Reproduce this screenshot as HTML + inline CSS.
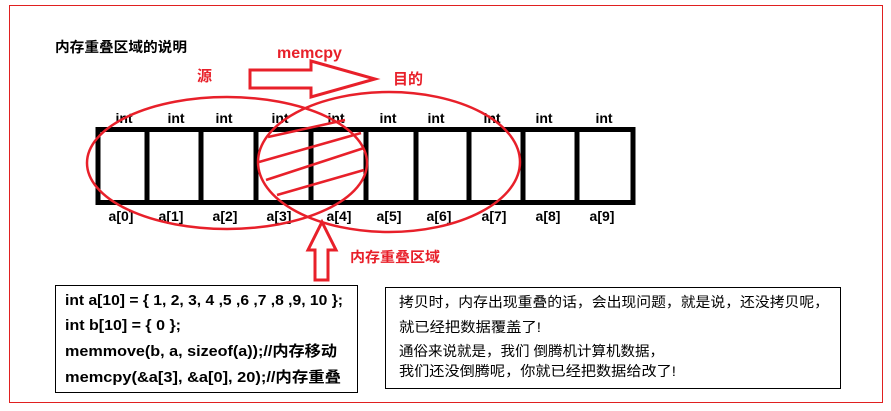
<!DOCTYPE html>
<html><head><meta charset="utf-8"><style>html,body{margin:0;padding:0;background:#fff;}svg{display:block}</style></head>
<body>
<svg width="891" height="411" viewBox="0 0 891 411" xmlns="http://www.w3.org/2000/svg" font-family="'Liberation Sans','Noto Sans CJK SC',sans-serif" font-weight="bold">
<rect x="9.5" y="5.5" width="873" height="397" fill="none" stroke="#e02020" stroke-width="1"/>
<text x="55" y="52" font-size="14" fill="#000" textLength="132" lengthAdjust="spacingAndGlyphs">内存重叠区域的说明</text>
<text x="277" y="58" font-size="16" fill="#e8202a">memcpy</text>
<text x="197" y="81" font-size="15" fill="#e8202a">源</text>
<text x="393" y="84" font-size="15" fill="#e8202a">目的</text>
<polygon points="250,70 311,70 311,61 375,79 311,97 311,88 250,88" fill="none" stroke="#e8202a" stroke-width="3"/>
<g font-size="14" fill="#000" text-anchor="middle">
<text x="124" y="123">int</text><text x="176" y="123">int</text><text x="224" y="123">int</text><text x="280" y="123">int</text><text x="336" y="123">int</text><text x="388" y="123">int</text><text x="436" y="123">int</text><text x="492" y="123">int</text><text x="544" y="123">int</text><text x="604" y="123">int</text>
<text x="121" y="221">a[0]</text><text x="171" y="221">a[1]</text><text x="225" y="221">a[2]</text><text x="279" y="221">a[3]</text><text x="339" y="221">a[4]</text><text x="389" y="221">a[5]</text><text x="439" y="221">a[6]</text><text x="494" y="221">a[7]</text><text x="548" y="221">a[8]</text><text x="602" y="221">a[9]</text>
</g>
<rect x="98" y="129.5" width="535" height="73" fill="none" stroke="#000" stroke-width="5"/>
<g stroke="#000" stroke-width="5">
<line x1="147" y1="129" x2="147" y2="203"/><line x1="201" y1="129" x2="201" y2="203"/><line x1="256" y1="129" x2="256" y2="203"/><line x1="311" y1="129" x2="311" y2="203"/><line x1="366" y1="129" x2="366" y2="203"/><line x1="416" y1="129" x2="416" y2="203"/><line x1="469" y1="129" x2="469" y2="203"/><line x1="523" y1="129" x2="523" y2="203"/><line x1="577" y1="129" x2="577" y2="203"/>
</g>
<g fill="none" stroke="#e8202a" stroke-width="2.5">
<ellipse cx="227" cy="163" rx="140" ry="66"/>
<ellipse cx="389" cy="162" rx="131" ry="70"/>
<line x1="268" y1="137" x2="345" y2="120"/>
<line x1="259" y1="162" x2="361" y2="133"/>
<line x1="266" y1="180" x2="364" y2="148"/>
<line x1="277" y1="195" x2="364" y2="170"/>
<polygon points="322,222 336,250 328,250 328,280 315,280 315,250 308,250" stroke-width="3"/>
</g>
<text x="350" y="262" font-size="14" fill="#e8202a" textLength="90" lengthAdjust="spacingAndGlyphs">内存重叠区域</text>
<rect x="55.5" y="285.5" width="302" height="107" fill="none" stroke="#000" stroke-width="1"/>
<g font-size="15" fill="#000">
<text x="65" y="305" textLength="278" lengthAdjust="spacingAndGlyphs">int a[10] = { 1, 2, 3, 4 ,5 ,6 ,7 ,8 ,9, 10 };</text>
<text x="65" y="330" textLength="116" lengthAdjust="spacingAndGlyphs">int b[10] = { 0 };</text>
<text x="65" y="356" textLength="272" lengthAdjust="spacingAndGlyphs">memmove(b, a, sizeof(a));//内存移动</text>
<text x="65" y="382" textLength="276" lengthAdjust="spacingAndGlyphs">memcpy(&amp;a[3], &amp;a[0], 20);//内存重叠</text>
</g>
<rect x="385.5" y="287.5" width="455" height="101" fill="none" stroke="#000" stroke-width="1"/>
<g font-size="14" fill="#000" font-weight="normal">
<text x="399" y="307" textLength="430" lengthAdjust="spacingAndGlyphs">拷贝时，内存出现重叠的话，会出现问题，就是说，还没拷贝呢，</text>
<text x="399" y="332" textLength="142" lengthAdjust="spacingAndGlyphs">就已经把数据覆盖了!</text>
<text x="399" y="356" textLength="265" lengthAdjust="spacingAndGlyphs">通俗来说就是，我们 倒腾机计算机数据，</text>
<text x="399" y="376" textLength="277" lengthAdjust="spacingAndGlyphs">我们还没倒腾呢，你就已经把数据给改了!</text>
</g>
</svg>
</body></html>
